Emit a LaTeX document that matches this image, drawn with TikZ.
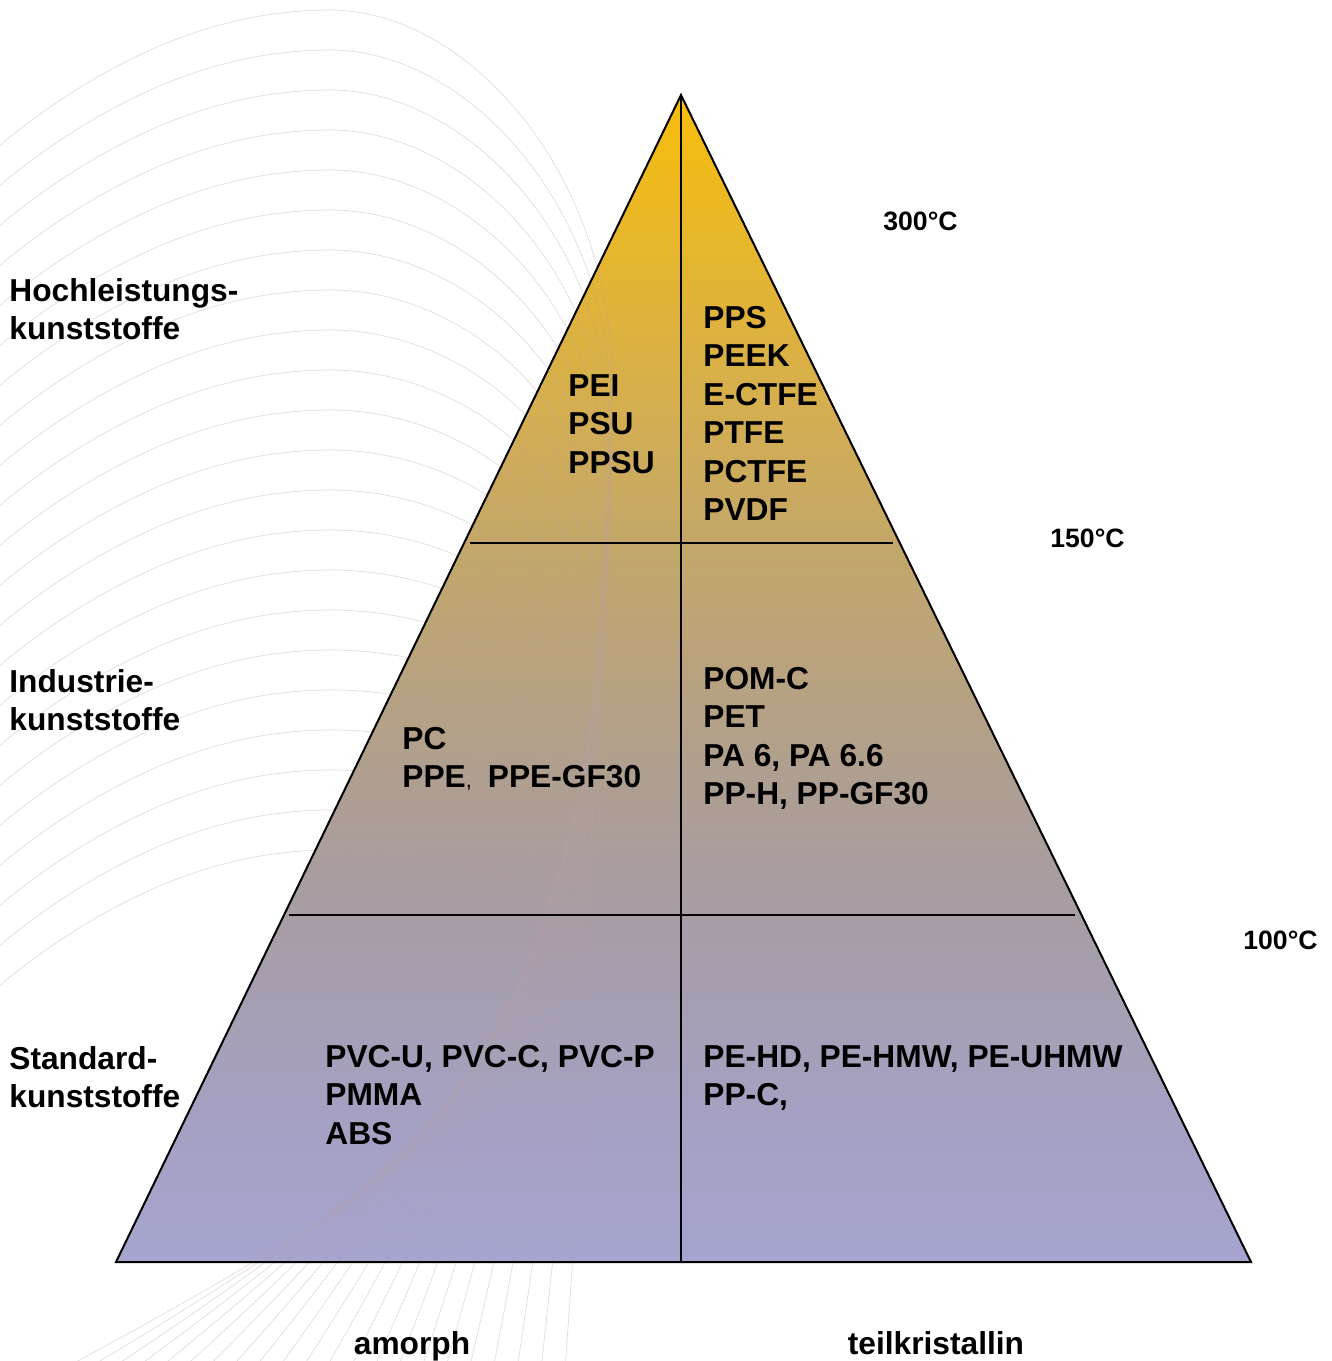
\documentclass[tikz,border=0pt]{standalone}
\usepackage{fontspec}
\setmainfont{Liberation Sans}
\definecolor{decoC}{RGB}{185,160,165}
\definecolor{g0}{RGB}{248,190,10}
\definecolor{g1}{RGB}{208,172,88}
\definecolor{g2}{RGB}{195,167,105}
\definecolor{g3}{RGB}{173,158,148}
\definecolor{g4}{RGB}{167,157,165}
\definecolor{g5}{RGB}{165,160,192}
\definecolor{g6}{RGB}{165,165,208}
\tikzset{
  lbl/.style={anchor=north west, inner sep=0pt, align=left, text=black,
    font=\bfseries\fontsize{15.85}{19.2}\selectfont},
  tmp/.style={anchor=north west, inner sep=0pt, text=black,
    font=\bfseries\fontsize{13.3}{16}\selectfont},
  bot/.style={anchor=base, inner sep=0pt, text=black,
    font=\bfseries\fontsize{15.85}{19.2}\selectfont},
  outline/.style={line width=1pt, line join=miter},
  divider/.style={line width=0.75pt},
  deco/.style={draw=decoC, line width=0.35pt, opacity=0.38}
}
\begin{document}
\begin{tikzpicture}[x=0.5pt,y=-0.5pt]
\useasboundingbox (0,0) rectangle (1332,1361);
% corners of the pyramid
\coordinate (A) at (681,95);
\coordinate (BL) at (116,1262);
\coordinate (BR) at (1251,1262);
\coordinate (BM) at (681,1262);
\coordinate (h1l) at (470,543);
\coordinate (h1r) at (893,543);
\coordinate (h2l) at (289,915);
\coordinate (h2r) at (1075,915);
% gradient fill
\begin{scope}
  \clip (A) -- (BL) -- (BR) -- cycle;
  \shade[top color=g0,bottom color=g1] (100,90) rectangle (1260,446);
  \shade[top color=g1,bottom color=g2] (100,445) rectangle (1260,546);
  \shade[top color=g2,bottom color=g3] (100,545) rectangle (1260,801);
  \shade[top color=g3,bottom color=g4] (100,800) rectangle (1260,916);
  \shade[top color=g4,bottom color=g5] (100,915) rectangle (1260,1101);
  \shade[top color=g5,bottom color=g6] (100,1100) rectangle (1260,1270);
\end{scope}
% decorative background curves
\begin{scope}
  \clip (0,0) rectangle (1332,1361);
  \foreach \i in {0,...,21}{
    \pgfmathsetmacro\yP{10+40*\i}
    \pgfmathsetmacro\yE{380+27*\i}
    \pgfmathsetmacro\xE{612-1.2*\i}
    \pgfmathsetmacro\xB{565-24*\i}
    \pgfmathsetmacro\yL{\yP+135}
    \pgfmathsetmacro\yA{\yP+45}
    \pgfmathsetmacro\yC{\yP+0.45*(\yE-\yP)}
    \pgfmathsetmacro\yD{\yE+0.3*(1370-\yE)}
    \pgfmathsetmacro\xF{\xB+0.45*(\xE-\xB)}
    \pgfmathsetmacro\yF{1370-0.3*(1370-\yE)}
    \draw[deco] (0,\yL) .. controls (110,\yA) and (220,\yP) .. (330,\yP)
      .. controls (470,\yP) and (\xE,\yC) .. (\xE,\yE)
      .. controls (\xE,\yD) and (\xF,\yF) .. (\xB,1370);
  }
\end{scope}
% outlines and dividers
\draw[outline] (A) -- (BL) -- (BR) -- cycle;
\draw[outline] (A) -- (BM);
\draw[divider] (h1l) -- (h1r);
\draw[divider] (h2l) -- (h2r);
% left category labels
\node[lbl] (hoch) at (9,278) {Hochleistungs-\\kunststoffe};
\node[lbl] (indu) at (9,669) {Industrie-\\kunststoffe};
\node[lbl] (stan) at (9,1046) {Standard-\\kunststoffe};
% materials
\node[lbl] (amtop) at (568,374) {PEI\\PSU\\PPSU};
\node[lbl] (tktop) at (703,306) {PPS\\PEEK\\E-CTFE\\PTFE\\PCTFE\\PVDF};
\node[lbl] (ammid) at (402,727) {PC\\PPE{\mdseries\fontsize{11}{12}\selectfont,}\hspace{8pt}PPE-GF30};
\node[lbl] (tkmid) at (703,667) {POM-C\\PET\\PA 6, PA 6.6\\PP-H, PP-GF30};
\node[lbl] (ambot) at (325,1045) {PVC-U, PVC-C, PVC-P\\PMMA\\ABS};
\node[lbl] (tkbot) at (703,1045) {PE-HD, PE-HMW, PE-UHMW\\PP-C,};
% temperatures
\node[tmp] (t300) at (883,212) {300°C};
\node[tmp] (t150) at (1050,529) {150°C};
\node[tmp] (t100) at (1243,931) {100°C};
% bottom labels
\node[bot] (amorph) at (412,1354) {amorph};
\node[bot] (teilk) at (936,1354) {teilkristallin};
\end{tikzpicture}
\end{document}
